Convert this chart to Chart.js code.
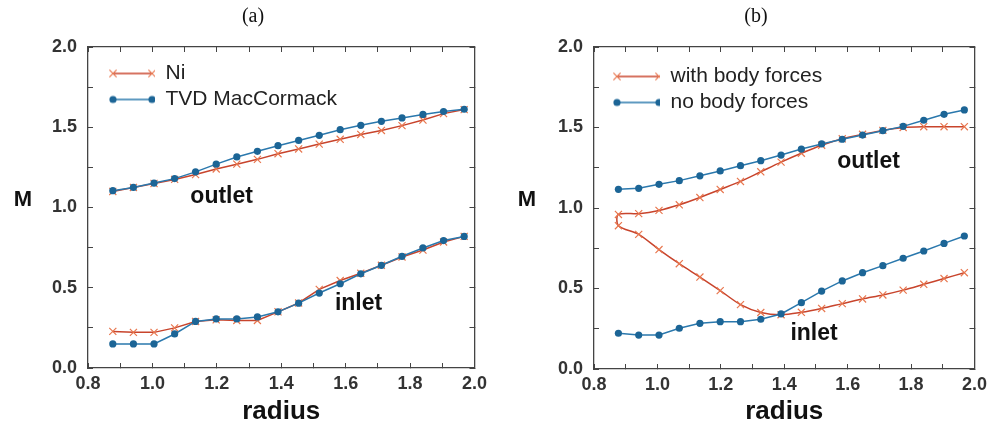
<!DOCTYPE html>
<html>
<head>
<meta charset="utf-8">
<script src="https://cdn.jsdelivr.net/npm/chart.js@4.4.0/dist/chart.umd.min.js"></script>
<style>
html,body{margin:0;padding:0;background:#fff}
#wrap{position:relative;width:997px;height:424px}
canvas{position:absolute;top:0}
#chartA{left:0}
#chartB{left:497px}
</style>
</head>
<body>
<div id="wrap">
<canvas id="chartA" width="497" height="424"></canvas>
<canvas id="chartB" width="500" height="424"></canvas>
</div>
<script>
// ---- data ----
// radial stations (same for every curve)
const radius = [0.877,0.941,1.005,1.069,1.134,1.198,1.262,1.326,1.390,1.454,1.518,1.583,1.647,1.711,1.775,1.840,1.904,1.968]

// (a) Ni vs TVD MacCormack
const niOutlet  = [1.100,1.125,1.150,1.175,1.205,1.240,1.270,1.300,1.335,1.365,1.395,1.425,1.455,1.480,1.510,1.545,1.585,1.610]
const niInlet   = [0.228,0.222,0.222,0.250,0.290,0.300,0.296,0.296,0.350,0.405,0.490,0.545,0.590,0.640,0.692,0.735,0.785,0.820]
const tvdOutlet = [1.105,1.125,1.152,1.180,1.222,1.270,1.315,1.350,1.385,1.418,1.450,1.485,1.512,1.537,1.558,1.580,1.598,1.612]
const tvdInlet  = [0.150,0.150,0.150,0.212,0.290,0.306,0.306,0.318,0.350,0.404,0.467,0.525,0.587,0.640,0.696,0.748,0.794,0.820]

// (b) with / without body forces
const withOutlet = [0.960,0.965,0.985,1.020,1.065,1.115,1.165,1.225,1.285,1.340,1.390,1.430,1.458,1.482,1.500,1.505,1.505,1.505]
const withInlet  = [0.890,0.836,0.742,0.654,0.571,0.487,0.400,0.351,0.337,0.352,0.376,0.406,0.435,0.460,0.490,0.526,0.562,0.598]
const noOutlet   = [1.116,1.122,1.147,1.170,1.200,1.230,1.263,1.294,1.329,1.366,1.398,1.427,1.453,1.480,1.507,1.545,1.582,1.609]
const noInlet    = [0.222,0.211,0.211,0.253,0.284,0.294,0.294,0.309,0.342,0.412,0.484,0.547,0.598,0.642,0.688,0.733,0.780,0.826]

// axis ticks
const xTicks = [0.8,1.0,1.2,1.4,1.6,1.8,2.0]
const yTicks = [0.0,0.5,1.0,1.5,2.0]

// ---- styling ----
const RED_LINE="#c8442c", RED_MARK="#e8774f"
const BLUE_LINE="#2a78ad", BLUE_MARK="#1c6596"
const SANS='"Liberation Sans", Arial, Helvetica, sans-serif'
const FRAME="#444"

function pts(ys){
return ys.map((y,i)=>({x:radius[i],y:y}))
}

function redSet(label,data,tension){
return {label:label,data:data,showLine:true,borderColor:RED_LINE,borderWidth:1.5,
pointStyle:"crossRot",pointRadius:5,pointBorderColor:RED_MARK,pointBorderWidth:1.2,
pointBackgroundColor:RED_MARK,tension:tension||0,order:1}
}

function blueSet(label,data){
return {label:label,data:data,showLine:true,borderColor:BLUE_LINE,borderWidth:1.5,
pointStyle:"circle",pointRadius:3.6,pointBorderWidth:0,pointBackgroundColor:BLUE_MARK,
tension:0,order:0}
}

// small legend swatch: line with a marker at both ends
function legendIcon(kind,w,x1,x2){
let c=document.createElement("canvas")
c.width=w; c.height=14
let g=c.getContext("2d")
let cy=7
g.strokeStyle=kind=="red"?RED_LINE:BLUE_LINE
g.lineWidth=1.5
g.beginPath(); g.moveTo(x1,cy); g.lineTo(x2,cy); g.stroke()
;[x1,x2].forEach(x=>{
if(kind=="red"){
g.strokeStyle=RED_MARK; g.lineWidth=1.2
g.beginPath()
g.moveTo(x-3.6,cy-3.6); g.lineTo(x+3.6,cy+3.6)
g.moveTo(x-3.6,cy+3.6); g.lineTo(x+3.6,cy-3.6)
g.stroke()
}else{
g.fillStyle=BLUE_MARK
g.beginPath(); g.arc(x,cy,3.6,0,Math.PI*2); g.fill()
}
})
return c
}

function isTick(list,v){
return list.some(t=>Math.abs(t-v)<1e-6)
}

function frameAxis(pos,extra){
let base={
type:"linear",position:pos,
grid:{drawOnChartArea:false,drawTicks:true,tickLength:-5,color:FRAME,tickWidth:1},
border:{display:true,color:FRAME,width:1.3}
}
return Object.assign(base,extra)
}

function makePanel(id,cfg){

let textPlugin={
id:"panelText",
afterDraw(chart){
let ctx=chart.ctx, a=chart.chartArea, s=chart.scales
ctx.save()
ctx.fillStyle="#111"
ctx.textAlign="center"
ctx.textBaseline="middle"
ctx.font='20px "Liberation Serif", "DejaVu Serif", serif'
ctx.fillText(cfg.tag,cfg.tagX,cfg.tagY)
ctx.font="bold 22px "+SANS
ctx.fillText("M",cfg.mX,cfg.mY)
ctx.font="bold 26px "+SANS
ctx.textBaseline="alphabetic"
ctx.fillText("radius",(a.left+a.right)/2,cfg.radiusY)
ctx.font="bold 23px "+SANS
ctx.textBaseline="middle"
cfg.notes.forEach(n=>{
ctx.fillText(n.text,s.x.getPixelForValue(n.x),s.y.getPixelForValue(n.y))
})
ctx.restore()
}
}

let icons=cfg.legend.map(l=>legendIcon(l.kind,cfg.iconW,cfg.lineX1,cfg.lineX2))

new Chart(document.getElementById(id),{
type:"scatter",
data:{datasets:cfg.datasets},
plugins:[textPlugin],
options:{
responsive:false,
devicePixelRatio:1,
animation:false,
layout:{padding:{left:0,top:47,right:cfg.padRight,bottom:0}},
scales:{
x:frameAxis("bottom",{
min:0.8,max:2.0,
ticks:{stepSize:0.1,autoSkip:false,maxRotation:0,padding:10,color:"#333",
font:{family:SANS,size:18,weight:"bold"},
callback:v=>isTick(xTicks,v)?v.toFixed(1):""},
afterFit:sc=>{sc.height=cfg.xAxisH}
}),
x2:frameAxis("top",{
min:0.8,max:2.0,
ticks:{display:false,stepSize:0.1},
afterFit:sc=>{sc.height=0}
}),
y:frameAxis("left",{
min:0,max:2,
ticks:{stepSize:0.25,autoSkip:false,padding:16,color:"#333",
font:{family:SANS,size:18,weight:"bold"},
callback:v=>isTick(yTicks,v)?v.toFixed(1):""},
afterFit:sc=>{sc.width=cfg.yAxisW}
}),
y2:frameAxis("right",{
min:0,max:2,
ticks:{display:false,stepSize:0.25},
afterFit:sc=>{sc.width=0}
})
},
plugins:{
tooltip:{enabled:false},
legend:{
position:"chartArea",
align:"start",
// legend box starts at the canvas top, so the title spacer pushes it into the plot
title:{display:true,text:"",font:{size:10,lineHeight:1},padding:{top:cfg.legendTop,bottom:0}},
labels:{
usePointStyle:true,
pointStyleWidth:cfg.iconW,
boxHeight:21,
padding:5,
color:"#222",
font:{family:SANS,size:21},
generateLabels:()=>cfg.legend.map((l,i)=>({
text:l.text,pointStyle:icons[i],fillStyle:"#fff",strokeStyle:"#fff",
lineWidth:0,hidden:false,datasetIndex:i,fontColor:"#222"
}))
}
}
}
}
})

}

// ---- panel (a) ----
makePanel("chartA",{
datasets:[
blueSet("TVD MacCormack",pts(tvdOutlet)),
blueSet("TVD MacCormack",pts(tvdInlet)),
redSet("Ni",pts(niOutlet)),
redSet("Ni",pts(niInlet))
],
legend:[{kind:"red",text:"Ni"},{kind:"blue",text:"TVD MacCormack"}],
iconW:62,lineX1:20,lineX2:59,legendTop:48,
padRight:22,yAxisW:88,xAxisH:56,
tag:"(a)",tagX:253,tagY:17,
mX:23,mY:200,radiusY:419,
notes:[{text:"outlet",x:1.215,y:1.07},{text:"inlet",x:1.64,y:0.40}]
})

// ---- panel (b) ----
// the body-force curve is one path: inlet (right to left), loop, outlet (left to right)
const withPath=pts(withInlet).reverse().concat(pts(withOutlet))

makePanel("chartB",{
datasets:[
blueSet("no body forces",pts(noOutlet)),
blueSet("no body forces",pts(noInlet)),
redSet("with body forces",withPath,0.3)
],
legend:[{kind:"red",text:"with body forces"},{kind:"blue",text:"no body forces"}],
iconW:61,lineX1:18,lineX2:60,legendTop:51,
padRight:15,yAxisW:97,xAxisH:55,
tag:"(b)",tagX:259,tagY:17,
mX:30,mY:200,radiusY:419,
notes:[{text:"outlet",x:1.666,y:1.29},{text:"inlet",x:1.494,y:0.217}]
})
</script>
</body>
</html>
